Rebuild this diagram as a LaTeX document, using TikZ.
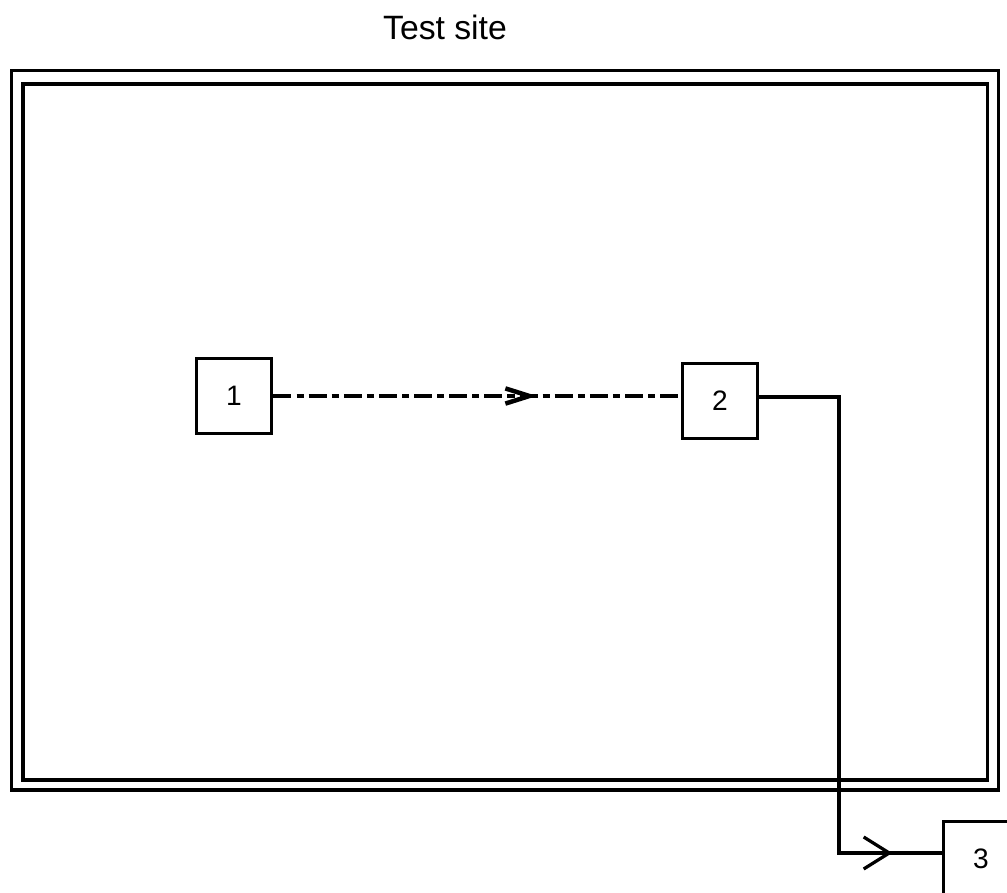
\documentclass[tikz,border=0pt]{standalone}
\usepackage{fontspec}
\setmainfont{Liberation Sans}
\usetikzlibrary{positioning, arrows.meta, calc, decorations.markings}

\begin{document}
\begin{tikzpicture}[
      x=0.025cm, y=-0.025cm,
      every node/.style={font=\fontsize{20}{22}\selectfont},
      unit/.style={draw, line width=2.8pt, minimum width=1.875cm, minimum height=1.875cm, inner sep=0pt},
      frame/.style={line width=2.8pt},
      wire/.style={line width=2.3pt},
      signal/.style={line width=2.8pt, dash pattern=on 12.8pt off 3.6pt on 5pt off 3.6pt},
      flowmark/.style 2 args={postaction={decorate}, decoration={markings,
          mark=at position #1 with {\arrow{#2}}}},
    ]
    \useasboundingbox (0,0) rectangle (1007,893);
    \clip (0,0) rectangle (1007,893);

    % Test site
    \node[anchor=base, font=\fontsize{24}{28}\selectfont] (title) at (445,40) {Test site};
    \draw[frame] (11.5,70.5) rectangle (998.5,790);
    \draw[frame] (23,84) rectangle (987.5,780);

    % Units
    \node[unit] (n1) at (234,396) {1};
    \node[unit] (n2) at (720,401) {2};
    \node[unit] (n3) at (981,859) {3};

    % Signal 1 -> 2
    \draw[signal, flowmark={0.647}{Straight Barb[length=0.6cm, width=0.38cm, line width=3.2pt]}]
      (n1.east |- 0,396) -- (n2.west |- 0,396);

    % Line 2 -> 3
    \coordinate (b1) at (839,397);
    \coordinate (b2) at (839,853);
    \draw[wire, line join=miter] (n2.east |- b1) -- (b1) -- (b2) -- (b2 -| n3.west);
    \path[flowmark={0.52}{Straight Barb[length=0.64cm, width=0.8cm, line width=2.3pt]}]
      (b2) -- (b2 -| n3.west);
  \end{tikzpicture}
\end{document}
